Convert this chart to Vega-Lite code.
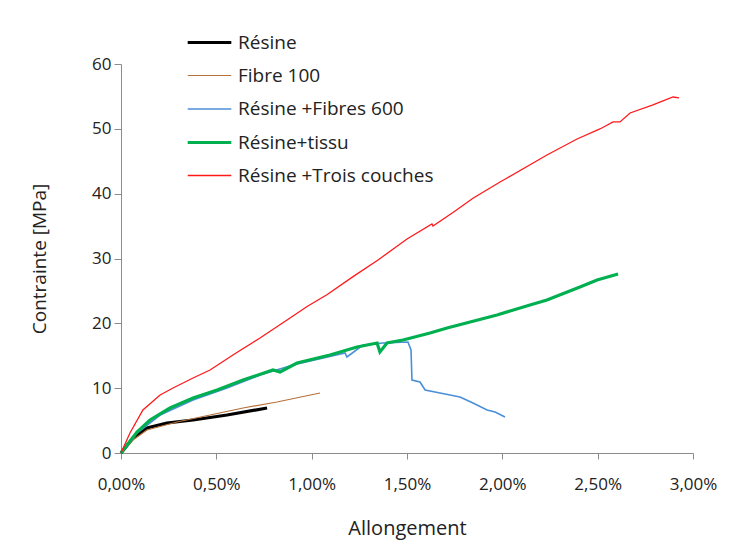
{
  "$schema": "https://vega.github.io/schema/vega-lite/v6.json",
  "width": 572,
  "height": 389,
  "autosize": "none",
  "padding": {"left": 121, "top": 64, "right": 44, "bottom": 104},
  "background": "white",
  "config": {
    "view": {"stroke": null},
    "font": "Open Sans",
    "axis": {"domainColor": "#8c8c8c", "tickColor": "#8c8c8c", "labelColor": "#222222", "titleColor": "#222222", "labelFont": "Open Sans", "titleFont": "Open Sans", "grid": false, "titleFontWeight": "normal"},
    "legend": {"labelFont": "Open Sans", "labelColor": "#222222"}
  },
  "data": {"values": [
    {"s": "Résine", "x": 0, "y": 0},
    {"s": "Résine", "x": 0.063, "y": 2.31},
    {"s": "Résine", "x": 0.136, "y": 3.86},
    {"s": "Résine", "x": 0.241, "y": 4.63},
    {"s": "Résine", "x": 0.378, "y": 5.09},
    {"s": "Résine", "x": 0.556, "y": 5.86},
    {"s": "Résine", "x": 0.766, "y": 6.94},
    {"s": "Fibre 100", "x": 0, "y": 0},
    {"s": "Fibre 100", "x": 0.063, "y": 2.0},
    {"s": "Fibre 100", "x": 0.136, "y": 3.55},
    {"s": "Fibre 100", "x": 0.294, "y": 4.78},
    {"s": "Fibre 100", "x": 0.467, "y": 5.86},
    {"s": "Fibre 100", "x": 0.64, "y": 6.94},
    {"s": "Fibre 100", "x": 0.818, "y": 7.87},
    {"s": "Fibre 100", "x": 1.044, "y": 9.25},
    {"s": "Résine +Fibres 600", "x": 0, "y": 0},
    {"s": "Résine +Fibres 600", "x": 0.084, "y": 3.08},
    {"s": "Résine +Fibres 600", "x": 0.205, "y": 5.86},
    {"s": "Résine +Fibres 600", "x": 0.378, "y": 8.18},
    {"s": "Résine +Fibres 600", "x": 0.556, "y": 10.03},
    {"s": "Résine +Fibres 600", "x": 0.729, "y": 12.03},
    {"s": "Résine +Fibres 600", "x": 0.902, "y": 13.57},
    {"s": "Résine +Fibres 600", "x": 1.175, "y": 15.42},
    {"s": "Résine +Fibres 600", "x": 1.185, "y": 14.81},
    {"s": "Résine +Fibres 600", "x": 1.269, "y": 16.66},
    {"s": "Résine +Fibres 600", "x": 1.374, "y": 16.97},
    {"s": "Résine +Fibres 600", "x": 1.505, "y": 17.12},
    {"s": "Résine +Fibres 600", "x": 1.521, "y": 15.9},
    {"s": "Résine +Fibres 600", "x": 1.526, "y": 11.26},
    {"s": "Résine +Fibres 600", "x": 1.568, "y": 10.95},
    {"s": "Résine +Fibres 600", "x": 1.595, "y": 9.72},
    {"s": "Résine +Fibres 600", "x": 1.673, "y": 9.25},
    {"s": "Résine +Fibres 600", "x": 1.778, "y": 8.64},
    {"s": "Résine +Fibres 600", "x": 1.846, "y": 7.71},
    {"s": "Résine +Fibres 600", "x": 1.92, "y": 6.63},
    {"s": "Résine +Fibres 600", "x": 1.962, "y": 6.32},
    {"s": "Résine +Fibres 600", "x": 2.014, "y": 5.55},
    {"s": "Résine+tissu", "x": 0, "y": 0},
    {"s": "Résine+tissu", "x": 0.084, "y": 3.24},
    {"s": "Résine+tissu", "x": 0.152, "y": 5.09},
    {"s": "Résine+tissu", "x": 0.257, "y": 6.94},
    {"s": "Résine+tissu", "x": 0.378, "y": 8.48},
    {"s": "Résine+tissu", "x": 0.504, "y": 9.72},
    {"s": "Résine+tissu", "x": 0.64, "y": 11.26},
    {"s": "Résine+tissu", "x": 0.797, "y": 12.8},
    {"s": "Résine+tissu", "x": 0.834, "y": 12.49},
    {"s": "Résine+tissu", "x": 0.923, "y": 13.88},
    {"s": "Résine+tissu", "x": 1.096, "y": 15.12},
    {"s": "Résine+tissu", "x": 1.238, "y": 16.35},
    {"s": "Résine+tissu", "x": 1.343, "y": 16.97},
    {"s": "Résine+tissu", "x": 1.358, "y": 15.58},
    {"s": "Résine+tissu", "x": 1.395, "y": 16.97},
    {"s": "Résine+tissu", "x": 1.479, "y": 17.43},
    {"s": "Résine+tissu", "x": 1.621, "y": 18.51},
    {"s": "Résine+tissu", "x": 1.71, "y": 19.28},
    {"s": "Résine+tissu", "x": 1.831, "y": 20.21},
    {"s": "Résine+tissu", "x": 1.972, "y": 21.29},
    {"s": "Résine+tissu", "x": 2.145, "y": 22.83},
    {"s": "Résine+tissu", "x": 2.234, "y": 23.6},
    {"s": "Résine+tissu", "x": 2.407, "y": 25.61},
    {"s": "Résine+tissu", "x": 2.497, "y": 26.69},
    {"s": "Résine+tissu", "x": 2.607, "y": 27.61},
    {"s": "Résine +Trois couches", "x": 0, "y": 0},
    {"s": "Résine +Trois couches", "x": 0.047, "y": 3.08},
    {"s": "Résine +Trois couches", "x": 0.115, "y": 6.63},
    {"s": "Résine +Trois couches", "x": 0.205, "y": 8.95},
    {"s": "Résine +Trois couches", "x": 0.273, "y": 10.03},
    {"s": "Résine +Trois couches", "x": 0.378, "y": 11.57},
    {"s": "Résine +Trois couches", "x": 0.467, "y": 12.8},
    {"s": "Résine +Trois couches", "x": 0.587, "y": 15.12},
    {"s": "Résine +Trois couches", "x": 0.729, "y": 17.74},
    {"s": "Résine +Trois couches", "x": 0.871, "y": 20.52},
    {"s": "Résine +Trois couches", "x": 0.976, "y": 22.6},
    {"s": "Résine +Trois couches", "x": 1.08, "y": 24.4},
    {"s": "Résine +Trois couches", "x": 1.217, "y": 27.2},
    {"s": "Résine +Trois couches", "x": 1.348, "y": 29.77},
    {"s": "Résine +Trois couches", "x": 1.5, "y": 33.0},
    {"s": "Résine +Trois couches", "x": 1.631, "y": 35.32},
    {"s": "Résine +Trois couches", "x": 1.636, "y": 35.01},
    {"s": "Résine +Trois couches", "x": 1.741, "y": 37.1},
    {"s": "Résine +Trois couches", "x": 1.846, "y": 39.3},
    {"s": "Résine +Trois couches", "x": 1.988, "y": 41.8},
    {"s": "Résine +Trois couches", "x": 2.025, "y": 42.42},
    {"s": "Résine +Trois couches", "x": 2.234, "y": 45.97},
    {"s": "Résine +Trois couches", "x": 2.392, "y": 48.43},
    {"s": "Résine +Trois couches", "x": 2.512, "y": 49.98},
    {"s": "Résine +Trois couches", "x": 2.581, "y": 51.06},
    {"s": "Résine +Trois couches", "x": 2.617, "y": 51.06},
    {"s": "Résine +Trois couches", "x": 2.67, "y": 52.45},
    {"s": "Résine +Trois couches", "x": 2.79, "y": 53.68},
    {"s": "Résine +Trois couches", "x": 2.895, "y": 54.91},
    {"s": "Résine +Trois couches", "x": 2.927, "y": 54.76}
  ]},
  "mark": {"type": "line", "interpolate": "linear"},
  "encoding": {
    "x": {
      "field": "x", "type": "quantitative",
      "scale": {"domain": [0, 3], "nice": false},
      "axis": {"values": [0, 0.5, 1, 1.5, 2, 2.5, 3], "labelExpr": "replace(format(datum.value, '.2f'), '.', ',') + '%'", "title": "Allongement", "labelFontSize": 17, "titleFontSize": 20, "tickSize": 6, "labelPadding": 17, "titlePadding": 26, "labelFlush": false}
    },
    "y": {
      "field": "y", "type": "quantitative",
      "scale": {"domain": [0, 60], "nice": false},
      "axis": {"values": [0, 10, 20, 30, 40, 50, 60], "title": "Contrainte [MPa]", "labelFontSize": 17, "titleFontSize": 19, "tickSize": 7, "labelPadding": 3, "titlePadding": 42}
    },
    "color": {
      "field": "s", "type": "nominal",
      "scale": {"domain": ["Résine", "Fibre 100", "Résine +Fibres 600", "Résine+tissu", "Résine +Trois couches"], "range": ["#000000", "#b5713c", "#4a8fd8", "#00b050", "#ff1a1a"]},
      "legend": {"title": null, "orient": "none", "legendX": 65, "legendY": -45, "symbolType": "stroke", "symbolSize": 1900, "labelFontSize": 19, "labelLimit": 0, "rowPadding": -10, "symbolOffset": 0, "labelOffset": 5}
    },
    "strokeWidth": {
      "field": "s", "type": "nominal",
      "scale": {"type": "ordinal", "domain": ["Résine", "Fibre 100", "Résine +Fibres 600", "Résine+tissu", "Résine +Trois couches"], "range": [3.2, 1.2, 1.6, 3.2, 1.3]},
      "legend": {"title": null, "orient": "none", "legendX": 65, "legendY": -45, "symbolType": "stroke", "symbolSize": 1900, "labelFontSize": 19, "labelLimit": 0, "rowPadding": -10, "symbolOffset": 0, "labelOffset": 5}
    }
  }
}
